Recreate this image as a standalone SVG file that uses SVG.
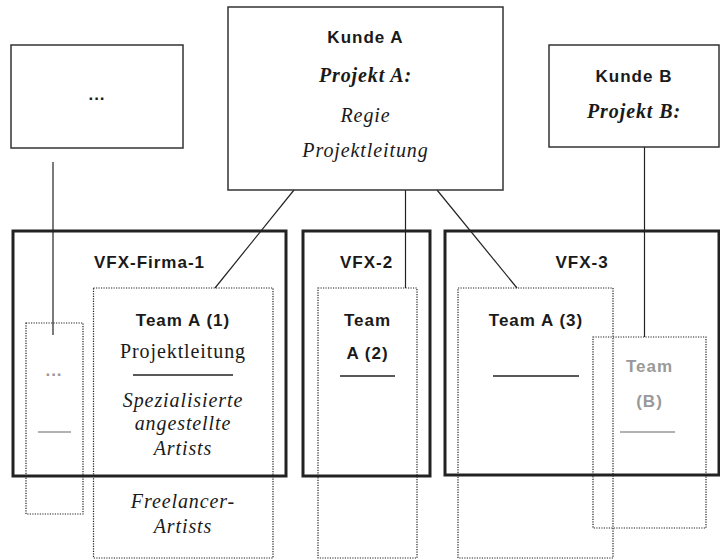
<svg xmlns="http://www.w3.org/2000/svg" width="720" height="560" viewBox="0 0 720 560">
<style>
.bg{fill:#fff}
.top{fill:none;stroke:#333;stroke-width:1.5}
.firm{fill:none;stroke:#222;stroke-width:3}
.team{fill:none;stroke:#222;stroke-width:1.2;stroke-dasharray:1.2 1.3}
.conn{fill:none;stroke:#222;stroke-width:1.2}
.rule{stroke:#222;stroke-width:1.5}
.grule{stroke:#999;stroke-width:1.5}
.h{font-family:"Liberation Sans",Arial,sans-serif;font-weight:bold;font-size:17px;fill:#1a1a1a;text-anchor:middle;letter-spacing:1px}
.hg{fill:#999}
.s{font-family:"Liberation Serif","Times New Roman",serif;font-size:20px;fill:#1a1a1a;text-anchor:middle;letter-spacing:0.9px}
.i{font-style:italic}
.bi{font-style:italic;font-weight:bold}
</style>
<rect class="bg" x="0" y="0" width="720" height="560"/>
<g id="connectors">
<line class="conn" x1="53" y1="162" x2="53" y2="335"/>
<line class="conn" x1="294" y1="190" x2="215" y2="288"/>
<line class="conn" x1="405.5" y1="190" x2="405.5" y2="288"/>
<line class="conn" x1="437" y1="190" x2="517" y2="288"/>
<line class="conn" x1="644.5" y1="147" x2="644.5" y2="337"/>
</g>
<g id="node-dots">
<rect class="top" x="11" y="45" width="172" height="103"/>
<text class="h" x="97" y="100">...</text>
</g>
<g id="kunde-a">
<rect class="top" x="228" y="7" width="275" height="183"/>
<text class="h" x="365.5" y="43">Kunde A</text>
<text class="s bi" x="365.5" y="82">Projekt A:</text>
<text class="s i" x="365.5" y="122">Regie</text>
<text class="s i" x="365.5" y="157">Projektleitung</text>
</g>
<g id="kunde-b">
<rect class="top" x="549" y="45" width="170" height="102"/>
<text class="h" x="634" y="82">Kunde B</text>
<text class="s bi" x="634" y="118">Projekt B:</text>
</g>
<g id="vfx-1">
<rect class="firm" x="13" y="231" width="273" height="245"/>
<text class="h" x="149.5" y="268">VFX-Firma-1</text>
</g>
<g id="vfx-2">
<rect class="firm" x="303" y="231" width="127" height="245"/>
<text class="h" x="366.5" y="268">VFX-2</text>
</g>
<g id="vfx-3">
<rect class="firm" x="445" y="231" width="274" height="244"/>
<text class="h" x="582" y="268">VFX-3</text>
</g>
<g id="team-dots">
<rect class="team" x="26" y="323" width="57" height="191"/>
<text class="h hg" x="54" y="376">...</text>
<line class="grule" x1="38" y1="432" x2="71" y2="432"/>
</g>
<g id="team-a1">
<rect class="team" x="93.5" y="288" width="179.5" height="270"/>
<text class="h" x="183" y="326">Team A (1)</text>
<text class="s" x="183" y="358">Projektleitung</text>
<line class="rule" x1="133" y1="375" x2="233" y2="375"/>
<text class="s i" x="183" y="407">Spezialisierte</text>
<text class="s i" x="183" y="430">angestellte</text>
<text class="s i" x="183" y="455">Artists</text>
<text class="s i" x="183" y="508">Freelancer-</text>
<text class="s i" x="183" y="533">Artists</text>
</g>
<g id="team-a2">
<rect class="team" x="318" y="288" width="99" height="270"/>
<text class="h" x="367.5" y="326">Team</text>
<text class="h" x="367.5" y="359">A (2)</text>
<line class="rule" x1="340" y1="376" x2="395" y2="376"/>
</g>
<g id="team-a3">
<rect class="team" x="458" y="288" width="155" height="270"/>
<text class="h" x="536" y="326">Team A (3)</text>
<line class="rule" x1="493" y1="376" x2="579" y2="376"/>
</g>
<g id="team-b">
<rect class="team" x="593" y="337" width="113" height="191"/>
<text class="h hg" x="649.5" y="372">Team</text>
<text class="h hg" x="649.5" y="407">(B)</text>
<line class="grule" x1="620" y1="432" x2="675" y2="432"/>
</g>
</svg>
